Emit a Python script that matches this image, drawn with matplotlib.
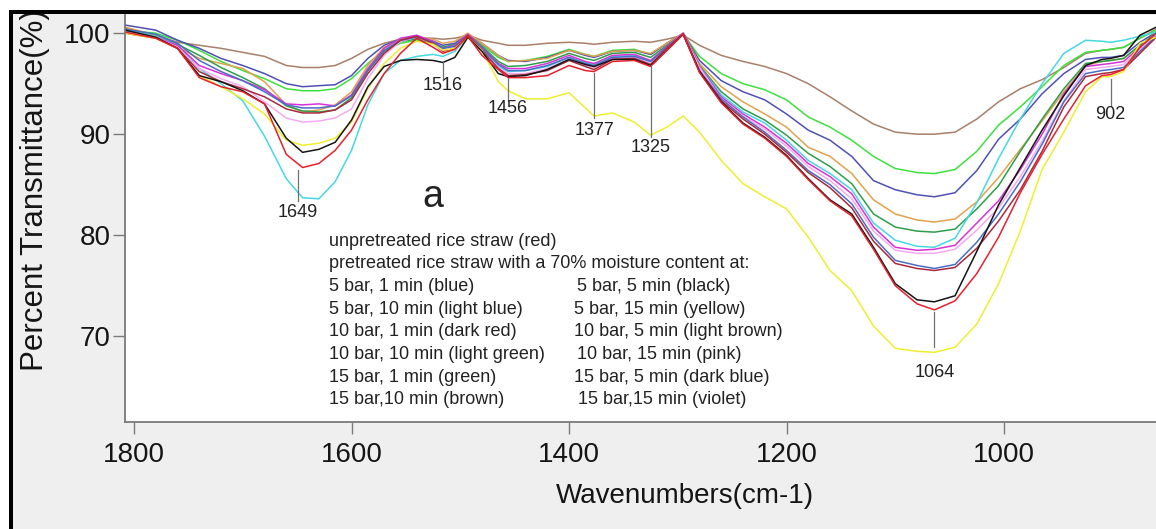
import matplotlib
matplotlib.use("Agg")
import matplotlib.pyplot as plt
from matplotlib.patches import Rectangle

plt.rcParams['font.family'] = ['Liberation Sans', 'DejaVu Sans']

# wavenumber grid (cm-1) shared by all spectra
wavenumbers = [1808, 1780, 1760, 1740, 1720, 1700, 1680, 1660, 1645, 1630, 1615, 1600,
               1585, 1570, 1555, 1540, 1525, 1516, 1505, 1493, 1480, 1465, 1456, 1440,
               1420, 1400, 1385, 1377, 1360, 1340, 1325, 1310, 1295,
               1280, 1260, 1240, 1220, 1200, 1180, 1160, 1140, 1120, 1100, 1080, 1064,
               1045, 1025, 1005, 985, 965, 945, 925, 910, 902, 890, 875, 860]

# percent transmittance
brown = [100.5, 99.8, 99.1, 98.8, 98.5, 98.1, 97.7, 96.8, 96.6, 96.6, 96.8, 97.5,
         98.4, 99.0, 99.4, 99.5, 99.5, 99.4, 99.5, 99.8, 99.3, 99.0, 98.8, 98.8,
         99.0, 99.1, 99.0, 98.9, 99.1, 99.2, 99.1, 99.4, 99.8,
         98.8, 97.8, 97.2, 96.7, 96.0, 95.0, 93.7, 92.3, 91.0, 90.2, 90.0, 90.0,
         90.2, 91.5, 93.2, 94.5, 95.4, 96.6, 98.0, 98.3, 98.4, 98.6, 99.5, 100.4]
light_green = [100.3, 100.0, 99.3, 98.3, 97.2, 96.3, 95.5, 94.5, 94.3, 94.3, 94.5, 95.5,
               97.0, 98.3, 99.0, 99.3, 98.9, 98.6, 98.9, 99.8, 98.8, 97.6, 97.2, 97.3,
               97.7, 98.4, 97.9, 97.7, 98.3, 98.4, 97.9, 99.0, 99.9,
               97.7, 96.0, 95.0, 94.4, 93.4, 91.7, 90.7, 89.4, 87.8, 86.6, 86.2, 86.1,
               86.5, 88.3, 90.9, 92.7, 94.7, 96.8, 98.1, 98.3, 98.4, 98.6, 99.5, 100.3]
dark_blue = [100.8, 100.3, 99.3, 98.5, 97.5, 96.8, 96.0, 95.0, 94.7, 94.8, 94.9, 95.8,
             97.5, 98.8, 99.4, 99.7, 99.2, 98.8, 99.0, 99.9, 99.0, 97.8, 97.3, 97.2,
             97.6, 98.3, 97.8, 97.6, 98.2, 98.3, 97.9, 99.0, 100.0,
             97.3, 95.3, 94.2, 93.4, 92.0, 90.4, 89.4, 87.8, 85.4, 84.5, 84.0, 83.8,
             84.2, 86.4, 89.5, 91.5, 94.0, 96.0, 97.4, 97.6, 97.6, 97.8, 99.1, 100.1]
light_brown = [100.6, 99.8, 98.6, 97.5, 97.0, 96.5, 95.2, 92.9, 92.2, 92.4, 92.9, 94.2,
               96.8, 98.6, 99.4, 99.6, 99.4, 99.0, 99.2, 100.0, 99.0, 97.8, 97.2, 97.3,
               97.5, 98.3, 97.9, 97.7, 98.2, 98.3, 98.0, 99.0, 100.0,
               97.0, 94.7, 93.2, 92.0, 90.7, 88.7, 87.8, 86.1, 83.5, 82.1, 81.5, 81.3,
               81.6, 83.3, 85.7, 88.5, 91.3, 94.2, 96.8, 97.2, 97.3, 97.5, 98.8, 100.0]
green = [100.2, 99.7, 98.9, 97.8, 96.6, 95.6, 94.5, 92.8, 92.3, 92.2, 92.4, 93.6,
         96.3, 98.2, 99.2, 99.4, 99.0, 98.6, 98.8, 99.8, 98.7, 97.2, 96.7, 96.8,
         97.2, 98.0, 97.5, 97.3, 98.0, 98.1, 97.6, 98.8, 99.9,
         96.8, 94.2, 92.5, 91.4, 89.9, 88.1, 86.8, 85.1, 82.1, 80.8, 80.4, 80.3,
         80.6, 82.6, 84.9, 88.3, 91.5, 94.5, 97.0, 97.2, 97.3, 97.5, 98.8, 100.0]
light_blue = [100.3, 99.7, 98.8, 96.5, 95.0, 93.3, 89.8, 85.6, 83.7, 83.6, 85.3, 88.4,
              92.9, 96.0, 97.3, 97.7, 97.9, 97.7, 98.2, 99.7, 98.4, 96.7, 96.2, 96.3,
              96.7, 97.6, 97.1, 96.9, 97.7, 97.8, 97.2, 98.6, 99.9,
              96.7, 93.9, 92.2, 91.1, 89.4, 87.4, 86.1, 84.5, 81.2, 79.5, 78.9, 78.8,
              79.7, 83.2, 87.6, 91.5, 95.0, 98.0, 99.3, 99.2, 99.1, 99.3, 99.7, 100.1]
violet = [100.1, 99.6, 98.8, 96.8, 96.0, 95.3, 94.4, 93.0, 92.9, 93.0, 92.8, 93.9,
          96.5, 98.5, 99.5, 99.8, 99.2, 98.5, 98.8, 99.9, 98.6, 97.0, 96.5, 96.5,
          97.0, 97.8, 97.2, 97.0, 97.8, 97.9, 97.3, 98.7, 100.0,
          96.7, 93.7, 92.0, 90.7, 89.1, 87.1, 85.8, 84.1, 80.8, 78.8, 78.5, 78.6,
          79.0, 81.2, 83.4, 86.5, 90.0, 94.0, 96.7, 96.9, 97.0, 97.2, 98.6, 99.9]
pink = [100.1, 99.6, 98.6, 96.5, 95.5, 94.7, 93.2, 91.6, 91.2, 91.3, 91.6, 92.5,
        95.5, 97.8, 99.2, 99.6, 99.0, 98.3, 98.6, 99.8, 98.3, 96.6, 96.0, 96.0,
        96.5, 97.4, 96.8, 96.6, 97.5, 97.6, 97.0, 98.5, 99.9,
        96.6, 93.5, 91.8, 90.5, 88.8, 86.8, 85.4, 83.6, 80.4, 78.5, 78.2, 78.2,
        78.6, 80.5, 82.7, 85.8, 89.3, 93.3, 96.4, 96.6, 96.7, 96.9, 98.4, 99.8]
blue = [100.4, 99.9, 99.0, 97.3, 96.2, 95.3, 94.2, 92.9, 92.6, 92.6, 92.8, 93.8,
        96.3, 98.3, 99.3, 99.6, 99.1, 98.5, 98.7, 99.8, 98.5, 96.9, 96.3, 96.3,
        96.8, 97.6, 97.0, 96.8, 97.6, 97.7, 97.2, 98.6, 99.9,
        96.3, 93.5, 91.7, 90.2, 88.4, 86.4, 85.0, 83.1, 79.8, 77.5, 77.0, 76.7,
        77.1, 79.3, 82.1, 85.3, 89.0, 93.2, 96.0, 96.3, 96.4, 96.6, 98.2, 99.7]
dark_red = [100.0, 99.5, 98.5, 96.2, 95.2, 94.5, 93.7, 92.5, 92.1, 92.1, 92.4, 93.4,
            96.0, 98.0, 99.3, 99.7, 99.0, 98.2, 98.5, 99.8, 98.3, 96.5, 95.8, 95.9,
            96.3, 97.3, 96.7, 96.4, 97.4, 97.5, 96.9, 98.5, 99.9,
            96.2, 93.3, 91.5, 90.0, 88.2, 86.2, 84.7, 82.7, 79.4, 77.2, 76.7, 76.5,
            76.8, 78.7, 81.4, 84.5, 88.3, 92.7, 95.7, 96.0, 96.1, 96.4, 98.0, 99.6]
yellow = [100.0, 99.5, 98.5, 95.8, 94.7, 93.5, 92.0, 89.4, 88.9, 89.1, 89.6, 91.2,
          94.5, 97.0, 98.5, 99.2, 98.9, 98.3, 98.5, 99.6, 98.3, 95.2, 94.3, 93.5,
          93.5, 94.1, 92.6, 91.8, 92.1, 91.2, 89.9, 90.7, 91.8,
          90.2, 87.4, 85.1, 83.8, 82.6, 79.8, 76.5, 74.5, 71.0, 68.8, 68.5, 68.4,
          68.9, 71.2, 75.2, 80.4, 86.5, 90.2, 94.2, 95.7, 95.7, 96.2, 99.0, 99.6]
black = [100.3, 99.6, 98.5, 95.8, 95.2, 94.3, 93.0, 89.6, 88.2, 88.5, 89.2, 91.4,
         94.7, 96.7, 97.3, 97.4, 97.3, 97.1, 97.6, 99.6, 98.2, 96.0, 95.7, 95.8,
         96.4, 97.4, 96.9, 96.7, 97.4, 97.4, 96.8, 98.3, 99.9,
         96.2, 93.2, 91.1, 89.7, 87.9, 85.6, 83.5, 82.1, 78.8, 75.2, 73.6, 73.4,
         74.0, 78.4, 83.0, 86.7, 90.4, 93.8, 96.8, 97.4, 97.5, 97.8, 99.8, 100.6]
red = [100.1, 99.5, 98.5, 95.6, 94.7, 94.2, 93.0, 88.0, 86.7, 87.1, 88.4, 90.4,
       93.4, 96.0, 98.0, 99.5, 98.6, 98.0, 98.4, 99.7, 97.8, 96.4, 95.6, 95.6,
       95.8, 96.8, 96.3, 96.2, 97.2, 97.3, 96.7, 98.3, 99.9,
       96.1, 93.1, 91.0, 89.6, 87.8, 85.5, 83.4, 81.9, 78.6, 75.0, 73.2, 72.6,
       73.5, 76.2, 79.8, 84.2, 88.0, 91.5, 94.8, 95.8, 95.9, 96.4, 98.6, 100.0]

series = [
    (brown, '#a8806a'),
    (light_green, '#3ee03e'),
    (dark_blue, '#5050b4'),
    (light_brown, '#e0a24e'),
    (green, '#2e9e4a'),
    (light_blue, '#45d8e2'),
    (violet, '#d832d8'),
    (pink, '#f4aaf0'),
    (blue, '#4a6ec4'),
    (dark_red, '#a82a3c'),
    (yellow, '#eeee30'),
    (black, '#151515'),
    (red, '#e8202c'),
]

# labelled bands
peaks = [1649, 1516, 1456, 1377, 1325, 1064, 902]
peak_line_top = [86.5, 97.1, 95.6, 96.1, 96.8, 72.4, 95.5]
peak_line_bottom = [83.4, 95.4, 93.3, 91.6, 89.7, 68.9, 92.8]
peak_label_y = [82.2, 94.8, 92.5, 90.4, 88.7, 66.4, 91.9]

legend_left = ["unpretreated rice straw (red)",
               "pretreated rice straw with a 70% moisture content at:",
               "5 bar, 1 min (blue)",
               "5 bar, 10 min (light blue)",
               "10 bar, 1 min (dark red)",
               "10 bar, 10 min (light green)",
               "15 bar, 1 min (green)",
               "15 bar,10 min (brown)"]
legend_right = ["5 bar, 5 min (black)",
                "5 bar, 15 min (yellow)",
                "10 bar, 5 min (light brown)",
                "10 bar, 15 min (pink)",
                "15 bar, 5 min (dark blue)",
                "15 bar,15 min (violet)"]

W, H = 1156, 529
fig = plt.figure(figsize=(W / 100, H / 100), dpi=100, facecolor='white')

# grey panel with the black frame along top and left
fig.add_artist(Rectangle((10 / W, 0), 1, (H - 12) / H, transform=fig.transFigure,
                         facecolor='#efefef', edgecolor='none', zorder=-10))
fig.add_artist(Rectangle((9 / W, (H - 14) / H), 1, 4 / H, transform=fig.transFigure,
                         facecolor='black', edgecolor='none', zorder=5))
fig.add_artist(Rectangle((9 / W, 0), 3.5 / W, (H - 10) / H, transform=fig.transFigure,
                         facecolor='black', edgecolor='none', zorder=5))

ax = fig.add_axes([125 / W, (H - 422) / H, 1120 / W, 407 / H])
ax.set_facecolor('white')

for vals, col in series:
    ax.plot(wavenumbers, vals, color=col, lw=1.1, solid_joinstyle='round')

for p, top, bot, ly in zip(peaks, peak_line_top, peak_line_bottom, peak_label_y):
    ax.plot([p, p], [top, bot], color='#707070', lw=0.9)
    ax.text(p, ly, str(p), ha='center', va='center', fontsize=13, color='#222222')

# panel letter
ax.text(433 / W, 1 - 197 / H, 'a', transform=fig.transFigure, ha='center',
        va='center', fontsize=27, color='#222222')

trans = fig.transFigure
for i, s in enumerate(legend_left):
    ax.text(329 / W, 1 - (241 + 22.7 * i) / H, s, transform=trans, ha='left',
            va='center', fontsize=13, color='#222222')
right_x = [577, 574, 574, 577, 574, 578]
for i, s in enumerate(legend_right):
    ax.text(right_x[i] / W, 1 - (241 + 22.7 * (i + 2)) / H, s, transform=trans,
            ha='left', va='center', fontsize=13, color='#222222')

ax.set_xlim(1808.3, 778.4)
ax.set_ylim(61.5, 101.8)
ax.set_xticks([1800, 1600, 1400, 1200, 1000])
ax.set_yticks([70, 80, 90, 100])

for side in ['top', 'right']:
    ax.spines[side].set_visible(False)
for side in ['left', 'bottom']:
    ax.spines[side].set_color('#7a7a7a')
    ax.spines[side].set_linewidth(1.3)

ax.tick_params(axis='both', direction='out', length=8.5, width=1, color='#7a7a7a',
               labelsize=20, labelcolor='#151515')
ax.tick_params(axis='x', pad=6)
ax.tick_params(axis='y', pad=2)

ax.set_xlabel('Wavenumbers(cm-1)', fontsize=20, color='#151515')
ax.xaxis.set_label_coords(0.5, -(483 - 422) / 407)
ax.set_ylabel('Percent Transmittance(%)', fontsize=22.5, color='#151515')
ax.yaxis.set_label_coords(-(125 - 50) / 1120, (422 - 190) / 407)

fig.savefig('out.png', dpi=100, facecolor=fig.get_facecolor())
